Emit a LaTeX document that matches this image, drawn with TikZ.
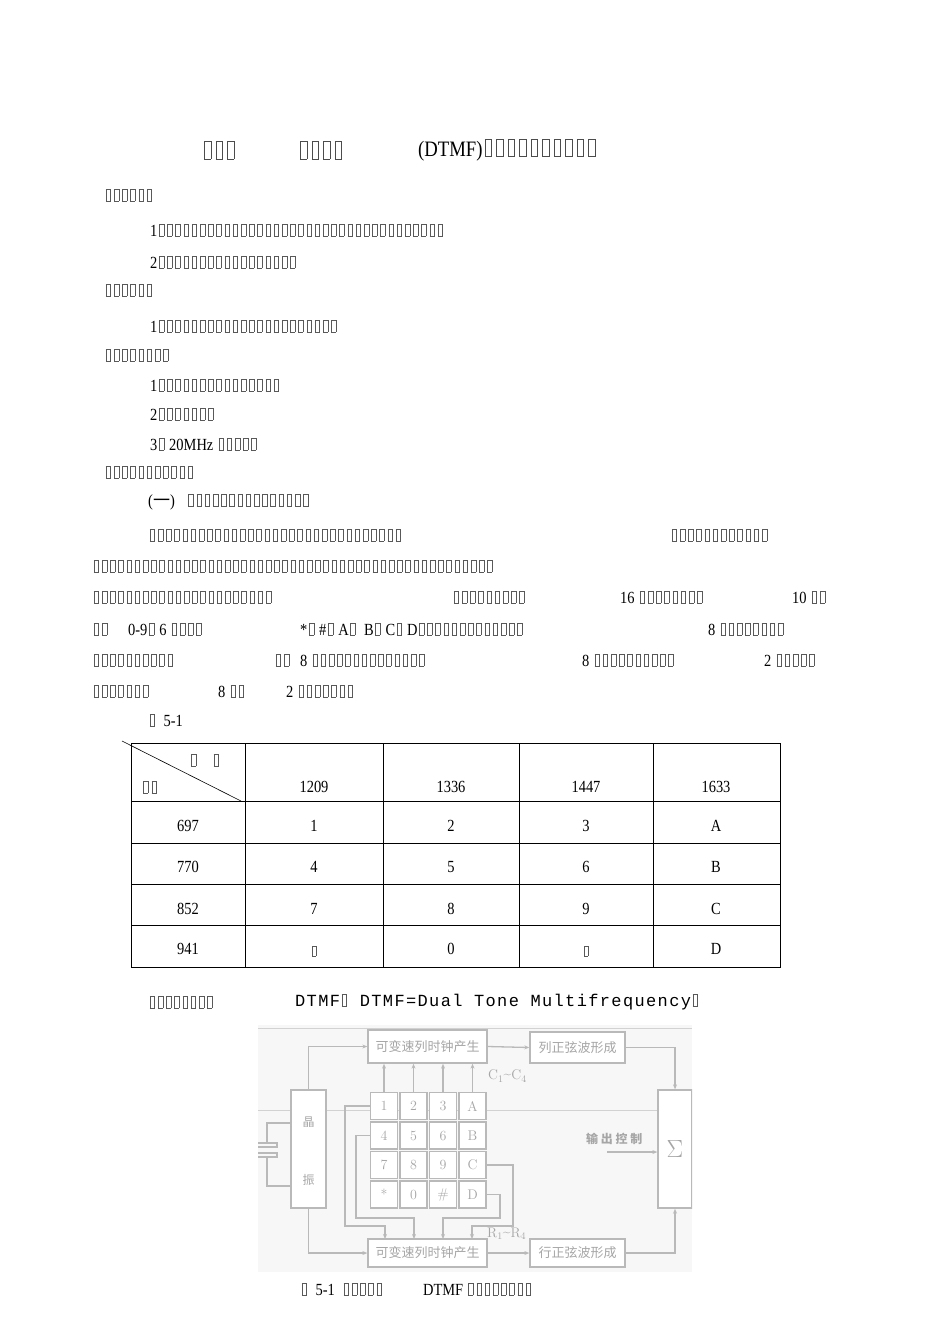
\documentclass[tikz,border=0pt]{standalone}
\usepackage{fontspec}
\newfontfamily\cjk{Noto Sans CJK SC}
\newfontfamily\nar[FakeStretch=0.85]{Liberation Serif}
\newfontfamily\mono[LetterSpace=8]{Liberation Mono}
\usetikzlibrary{arrows.meta}
\newcommand\bx{\hbox to 8.2pt{\hss{\color{black!65}\fboxsep0pt\fboxrule0.4pt\fbox{\rule{0pt}{12pt}\rule{4.2pt}{0pt}}}\hss}}
\newcommand\bxs[1]{\foreach\i in {1,...,#1}{\bx}}
\newcommand\bbx{\hbox to 11.5pt{\hss{\color{black!70}\fboxsep0pt\fboxrule0.5pt\fbox{\rule{0pt}{17pt}\rule{6pt}{0pt}}}\hss}}
\newcommand\bbxs[1]{\foreach\i in {1,...,#1}{\bbx}}
\begin{document}
\begin{tikzpicture}[x=1pt,y=-1pt,
 t/.style={anchor=west,inner sep=0pt,font=\nar\fontsize{17}{17}\selectfont},
 c/.style={inner sep=0pt,font=\nar\fontsize{17}{17}\selectfont},
 fg/.style={draw=gray!55,line width=1.3pt,fill=white,text=gray!70,font=\cjk\fontsize{13}{13}\selectfont},
 ln/.style={draw=gray!55,line width=1.3pt},
 ar/.style={ln,-{Stealth[open,length=5pt,width=4pt]}}]
\useasboundingbox (0,0) rectangle (950,1344);
% title
\node[t] (ti1) at (202,150) {\bbxs{3}};
\node[t] (ti2) at (298,150) {\bbxs{4}};
\node[t,font=\nar\fontsize{22}{22}\selectfont] (ti3) at (418,150) {(DTMF)\bbxs{10}};
% sections
\node[t] (s1) at (104,195) {\bxs{6}};
\node[t] (l1) at (150,230) {1\bxs{35}};
\node[t] (l2) at (150,262) {2\bxs{17}};
\node[t] (s2) at (104,290) {\bxs{6}};
\node[t] (l3) at (150,326) {1\bxs{22}};
\node[t] (s3) at (104,355) {\bxs{8}};
\node[t] (l4) at (150,385) {1\bxs{15}};
\node[t] (l5) at (150,414) {2\bxs{7}};
\node[t] (l6) at (150,444) {3\bx\ 20MHz \bxs{5}};
\node[t] (s4) at (104,472) {\bxs{11}};
\node[t] (l7) at (148,502) {({\cjk 一})\hspace{12pt}\bxs{15}};
% paragraph
\node[t] (p1a) at (148,535) {\bxs{31}};
\node[t] (p1b) at (670,535) {\bxs{12}};
\node[t] (p2) at (92,566) {\bxs{49}};
\node[t] (p3a) at (92,597) {\bxs{22}};
\node[t] (p3b) at (452,597) {\bxs{9}};
\node[t] (p3c) at (620,597) {16 \bxs{8}};
\node[t] (p3d) at (792,597) {10 \bxs{2}};
\node[t] (p4a) at (92,629) {\bxs{2}};
\node[t] (p4b) at (128,629) {0-9\bx\ 6 \bxs{4}};
\node[t] (p4c) at (300,629) {*\bx\ \#\bx\ A\bx\ \ B\bx\ C\bx\ D\bxs{13}};
\node[t] (p4d) at (708,629) {8 \bxs{8}};
\node[t] (p5a) at (92,660) {\bxs{10}};
\node[t] (p5b) at (274,660) {\bxs{2}};
\node[t] (p5c) at (300,660) {8 \bxs{14}};
\node[t] (p5d) at (582,660) {8 \bxs{10}};
\node[t] (p5e) at (764,660) {2 \bxs{5}};
\node[t] (p6a) at (92,691) {\bxs{7}};
\node[t] (p6b) at (218,691) {8 \bxs{2}};
\node[t] (p6c) at (286,691) {2 \bxs{7}};
\node[t] (p7) at (148,720) {\bx\ \ 5-1};
% table
\draw[line width=0.8pt] (131,743) rectangle (780,967);
\foreach \x in {245,383,519,653} \draw[line width=0.8pt] (\x,743) -- (\x,967);
\foreach \y in {801,843,884,925} \draw[line width=0.8pt] (131,\y) -- (780,\y);
\draw[line width=0.6pt] (122,741) -- (241,801);
\node[c] (h1) at (205,760) {\bx\hspace{14pt}\bx};
\node[c] (h2) at (150,787) {\bxs{2}};
\foreach \v/\x in {1209/314,1336/451,1447/586,1633/716} \node[c] (col\v) at (\x,787) {\v};
\foreach \r/\y/\a/\b/\cc/\d in {697/826/1/2/3/A,770/867/4/5/6/B,852/909/7/8/9/C}{
 \node[c] (r\r) at (188,\y) {\r};
 \node[c] (r\r a) at (314,\y) {\a};
 \node[c] (r\r b) at (451,\y) {\b};
 \node[c] (r\r c) at (586,\y) {\cc};
 \node[c] (r\r d) at (716,\y) {\d};}
\node[c] (r941) at (188,949) {941};
\node[c,scale=0.75] (r941a) at (314,951) {\bx};
\node[c] (r941b) at (451,949) {0};
\node[c,scale=0.75] (r941c) at (586,951) {\bx};
\node[c] (r941d) at (716,949) {D};
% caption
\node[t] (cap1) at (148,1002) {\bxs{8}};
\node[t,font=\mono\fontsize{17}{17}\selectfont] (cap2) at (295,1002) {DTMF\bx\ DTMF=Dual Tone Multifrequency\bx};
% figure
\begin{scope}
\clip (258,1025) rectangle (692,1272);
\fill[gray!6] (258,1025) rectangle (692,1272);
\draw[gray!35,line width=0.6pt] (258,1028) -- (692,1028) (258,1110) -- (692,1110);
\node[fg,minimum width=119,minimum height=33] (tb1) at (427.5,1046.5) {可变速列时钟产生};
\node[fg,minimum width=95,minimum height=31] (tb2) at (577.5,1047.5) {列正弦波形成};
\node[fg,minimum width=119,minimum height=28] (bb1) at (427.5,1253) {可变速列时钟产生};
\node[fg,minimum width=95,minimum height=28] (bb2) at (577.5,1253) {行正弦波形成};
\node[ln,fill=white,minimum width=35,minimum height=118] (osc) at (308.5,1149) {};
\node[text=gray!70,font=\cjk\fontsize{12}{12}\selectfont] (o1) at (308.5,1122) {晶};
\node[text=gray!70,font=\cjk\fontsize{12}{12}\selectfont] (o2) at (308.5,1180) {振};
\node[fg,minimum width=34,minimum height=118,font=\fontsize{26}{26}\selectfont] (sum) at (675,1149) {$\Sigma$};
\foreach \k [count=\i from 0] in {1,2,3,A,4,5,6,B,7,8,9,C,*,0,\#,D}{
 \pgfmathtruncatemacro\cx{mod(\i,4)}\pgfmathtruncatemacro\cy{div(\i,4)}
 \node[ln,fill=white,text=gray!70,minimum size=27,inner sep=0pt,font=\fontsize{14}{14}\selectfont] (k\i) at (384+\cx*29.5,1106+\cy*29.5) {\k};}
% crystal
\draw[ln] (osc.west |- 0,1123) -- (267,1123) -- (267,1143);
\draw[ln] (osc.west |- 0,1186) -- (267,1186) -- (267,1157);
\draw[ln] (257,1143) rectangle (277,1147) (257,1153) rectangle (277,1157);
% main flow
\draw[ar] (osc.north) |- (tb1.west);
\draw[ar] (osc.south) |- (bb1.west);
\draw[ar] (tb1.east) -- (tb2.west);
\draw[ar] (bb1.east) -- (bb2.west);
\draw[ar] (tb2.east) -| (sum.north);
\draw[ar] (bb2.east) -| (sum.south);
\foreach \i in {0,1,2,3} \draw[ar] (k\i.north) -- (k\i.north |- tb1.south);
\draw[ar] (k0.west) -- (345,1106) -- (345,1226) -- (385,1226) -- (385,1239);
\draw[ar] (k4.west) -- (356,1135.5) -- (356,1218) -- (414,1218) -- (414,1239);
\draw[ar] (k11.east) -- (513,1165) -- (513,1226) -- (472,1226) -- (472,1239);
\draw[ar] (k15.east) -- (500,1194.5) -- (500,1218) -- (443,1218) -- (443,1239);
\node[text=gray!70,anchor=west,inner sep=0,font=\fontsize{14}{14}\selectfont] (cl) at (488,1076) {C$_1$\raisebox{1pt}{\textasciitilde}C$_4$};
\node[text=gray!70,anchor=west,inner sep=0,font=\fontsize{14}{14}\selectfont] (rl) at (487,1234) {R$_1$\raisebox{1pt}{\textasciitilde}R$_4$};
\node[text=gray!70,anchor=west,inner sep=0,font=\cjk\bfseries\fontsize{12}{12}\selectfont] (oc) at (586,1139) {输 出 控 制};
\coordinate (oa) at (607,1152);
\draw[ar] (oa) -- (sum.west |- oa);
\end{scope}
\node[t] (cap3) at (300,1289) {\bx\ \ 5-1 \ \bxs{5}\hspace{40pt}DTMF \bxs{8}};
\end{tikzpicture}
\end{document}
